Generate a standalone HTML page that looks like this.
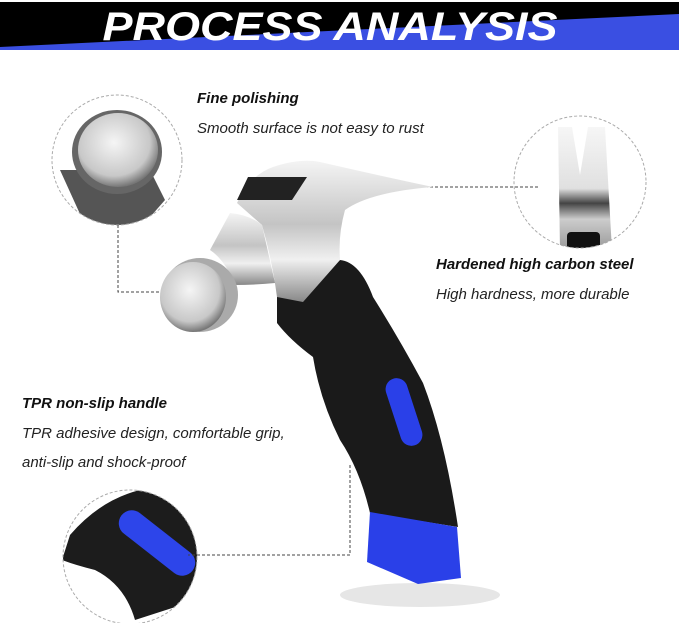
<!DOCTYPE html>
<html><head><style>
body{margin:0;width:679px;height:623px;background:#fff;overflow:hidden;font-family:"Liberation Sans",sans-serif}
.t{position:absolute;font-style:italic;font-size:15px;color:#222;white-space:nowrap}
.b{font-weight:bold;color:#111}
</style></head><body>
<svg width="679" height="623" style="position:absolute;left:0;top:0">
<defs>
<linearGradient id="m" x1="0" y1="0" x2="0" y2="1"><stop offset="0" stop-color="#f4f4f4"/><stop offset=".45" stop-color="#c4c4c4"/><stop offset=".7" stop-color="#f0f0f0"/><stop offset="1" stop-color="#888"/></linearGradient>
<linearGradient id="c" x1="0" y1="0" x2="0" y2="1"><stop offset="0" stop-color="#f6f6f6"/><stop offset=".5" stop-color="#e0e0e0"/><stop offset=".62" stop-color="#444"/><stop offset=".75" stop-color="#ccc"/><stop offset="1" stop-color="#999"/></linearGradient>
<radialGradient id="f" cx=".45" cy=".4" r=".6"><stop offset="0" stop-color="#f5f5f5"/><stop offset=".75" stop-color="#c8c8c8"/><stop offset="1" stop-color="#777"/></radialGradient>
<clipPath id="c1"><circle cx="117" cy="160" r="65"/></clipPath>
<clipPath id="c2"><circle cx="580" cy="182" r="66"/></clipPath>
<clipPath id="c3"><circle cx="130" cy="557" r="67"/></clipPath>
</defs>
<rect x="0" y="2" width="679" height="48" fill="#000"/>
<polygon points="0,47 679,14 679,50 0,50" fill="#3a4fe2"/>
<text x="330" y="40" text-anchor="middle" font-family="Liberation Sans" font-weight="bold" font-style="italic" font-size="40" fill="#fff" textLength="455" lengthAdjust="spacingAndGlyphs">PROCESS ANALYSIS</text>
<!-- circles -->
<g clip-path="url(#c1)">
<path d="M60,170 L85,225 L130,240 L165,200 L150,170 Z" fill="#555"/>
<ellipse cx="117" cy="152" rx="45" ry="42" fill="#666"/>
<ellipse cx="118" cy="150" rx="40" ry="37" fill="url(#f)"/>
</g>
<circle cx="117" cy="160" r="65" fill="none" stroke="#aaa" stroke-dasharray="3,2"/>
<g clip-path="url(#c2)">
<path d="M558,127 L572,127 L580,175 L588,127 L605,127 L612,250 L560,250 Z" fill="url(#c)"/>
<rect x="567" y="232" width="33" height="20" rx="4" fill="#111"/>
</g>
<circle cx="580" cy="182" r="66" fill="none" stroke="#aaa" stroke-dasharray="3,2"/>
<g clip-path="url(#c3)">
<path d="M70,535 Q100,500 140,490 L200,500 Q200,560 197,600 L135,620 Q125,585 95,570 Q75,565 62,560 Z" fill="#1c1c1c"/>
<rect x="112" y="530" width="90" height="26" rx="13" fill="#2d45ea" transform="rotate(38 157 543)"/>
</g>
<circle cx="130" cy="557" r="67" fill="none" stroke="#aaa" stroke-dasharray="3,2"/>
<!-- dashed -->
<g stroke="#444" stroke-dasharray="3,2" fill="none">
<path d="M118,225 V292 H182"/>
<path d="M335,187 H540"/>
<path d="M350,465 V555 H188"/>
</g>
<!-- hammer -->
<ellipse cx="420" cy="595" rx="80" ry="12" fill="#e6e6e6"/>
<path d="M277,297 L340,260 Q360,262 373,297 Q400,340 423,383 Q445,440 458,527 L370,513 Q360,470 340,440 Q320,400 313,357 Q290,340 277,323 Z" fill="#1a1a1a"/>
<rect x="393" y="377" width="22" height="70" rx="11" fill="#2a40e8" transform="rotate(-18 404 412)"/>
<path d="M370,512 L457,527 L461,578 L418,584 L367,562 Z" fill="#2a40e8"/>
<path d="M237,203 Q250,175 273,167 Q300,158 320,162 Q390,178 433,187 Q370,192 345,210 Q338,235 340,260 L303,302 L277,297 Q272,260 262,225 Z" fill="url(#m)"/>
<polygon points="237,200 248,177 307,177 292,200" fill="#222"/>
<path d="M230,213 Q250,215 262,225 L275,283 Q255,285 235,285 Q225,260 210,250 Z" fill="url(#m)"/>
<ellipse cx="200" cy="295" rx="38" ry="37" fill="#aaa"/>
<ellipse cx="193" cy="297" rx="33" ry="35" fill="url(#f)"/>
</svg>
<div class="t b" style="left:197px;top:90px">Fine polishing</div>
<div class="t" style="left:197px;top:120px">Smooth surface is not easy to rust</div>
<div class="t b" style="left:436px;top:256px">Hardened high carbon steel</div>
<div class="t" style="left:436px;top:286px">High hardness, more durable</div>
<div class="t b" style="left:22px;top:395px">TPR non-slip handle</div>
<div class="t" style="left:22px;top:425px">TPR adhesive design, comfortable grip,</div>
<div class="t" style="left:22px;top:454px">anti-slip and shock-proof</div>
</body></html>
